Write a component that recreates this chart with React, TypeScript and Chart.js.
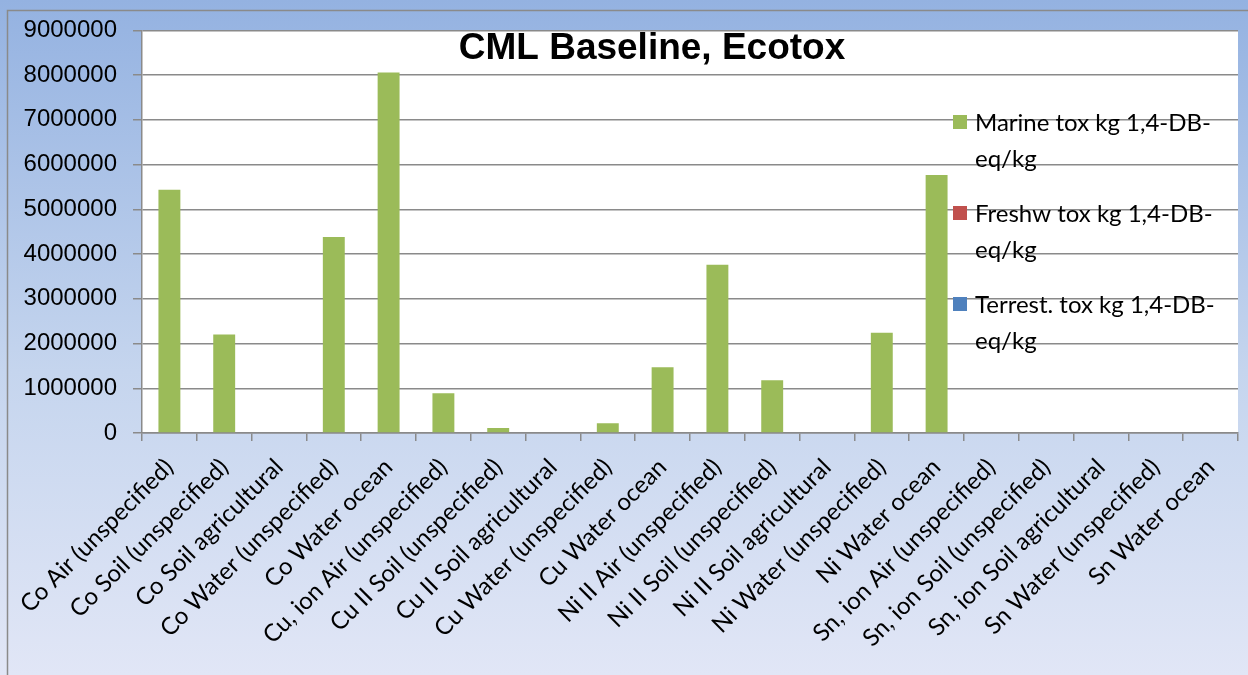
import React, { useEffect, useRef } from "react";
import { Chart, registerables } from "chart.js";

Chart.register(...registerables);

const chartTitle = "CML Baseline, Ecotox";

const categories = [
  "Co Air (unspecified)",
  "Co Soil (unspecified)",
  "Co Soil agricultural",
  "Co Water (unspecified)",
  "Co Water ocean",
  "Cu, ion Air (unspecified)",
  "Cu II Soil (unspecified)",
  "Cu II Soil agricultural",
  "Cu Water (unspecified)",
  "Cu Water ocean",
  "Ni II Air (unspecified)",
  "Ni II Soil (unspecified)",
  "Ni II Soil agricultural",
  "Ni Water (unspecified)",
  "Ni Water ocean",
  "Sn, ion Air (unspecified)",
  "Sn, ion Soil (unspecified)",
  "Sn, ion Soil agricultural",
  "Sn Water (unspecified)",
  "Sn Water ocean",
];

const marineTox = [
  5440000, 2200000, 0, 4380000, 8060000, 890000, 110000, 0, 220000, 1470000,
  3760000, 1180000, 0, 2240000, 5770000, 0, 0, 0, 0, 0,
];
const freshwTox = [0, 0, 0, 0, 0, 0, 0, 0, 0, 0, 0, 0, 0, 0, 0, 0, 0, 0, 0, 0];
const terrestTox = [0, 0, 0, 0, 0, 0, 0, 0, 0, 0, 0, 0, 0, 0, 0, 0, 0, 0, 0, 0];

const seriesLabels = [
  "Marine tox kg 1,4-DB-eq/kg",
  "Freshw tox kg 1,4-DB-eq/kg",
  "Terrest. tox kg 1,4-DB-eq/kg",
];
const seriesColors = ["#9bbb59", "#c0504d", "#4f81bd"];

const yMin = 0;
const yMax = 9000000;
const yStep = 1000000;

const W = 1248;
const H = 675;

function wrapText(ctx: CanvasRenderingContext2D, text: string, maxW: number): string[] {
  const tokens: string[] = [];
  let cur = "";
  for (const ch of text) {
    cur += ch;
    if (ch === " " || ch === "-") {
      tokens.push(cur);
      cur = "";
    }
  }
  if (cur) tokens.push(cur);
  const lines: string[] = [];
  let line = "";
  for (const t of tokens) {
    const test = line + t;
    if (line && ctx.measureText(test.trimEnd()).width > maxW) {
      lines.push(line.trimEnd());
      line = t;
    } else {
      line = test;
    }
  }
  if (line) lines.push(line.trimEnd());
  return lines;
}

const decorPlugin = {
  id: "decor",
  beforeDraw(chart: any) {
    const ctx = chart.ctx as CanvasRenderingContext2D;
    const { chartArea } = chart;
    ctx.save();
    const g = ctx.createLinearGradient(0, 0, 0, H);
    g.addColorStop(0, "#94b2e1");
    g.addColorStop(0.55, "#c5d5ee");
    g.addColorStop(1, "#e1e6f6");
    ctx.fillStyle = g;
    ctx.fillRect(0, 0, W, H);
    ctx.strokeStyle = "#8a8a8a";
    ctx.lineWidth = 1.5;
    ctx.beginPath();
    ctx.moveTo(7.5, H);
    ctx.lineTo(7.5, 10.5);
    ctx.lineTo(W, 10.5);
    ctx.stroke();
    ctx.fillStyle = "#ffffff";
    ctx.fillRect(chartArea.left, chartArea.top, chartArea.right - chartArea.left, chartArea.bottom - chartArea.top);
    ctx.restore();
  },
  afterDraw(chart: any) {
    const ctx = chart.ctx as CanvasRenderingContext2D;
    ctx.save();
    ctx.fillStyle = "#000000";
    ctx.font = "bold 37px 'Liberation Sans', Arial, sans-serif";
    ctx.textAlign = "center";
    ctx.textBaseline = "middle";
    ctx.fillText(chartTitle, 652, 49);
    ctx.font = "24px Lato, 'Open Sans', sans-serif";
    ctx.textAlign = "left";
    const boxX = 953;
    const textX = 975;
    let y = 122;
    chart.data.datasets.forEach((ds: any) => {
      ctx.fillStyle = ds.backgroundColor;
      ctx.fillRect(boxX, y - 7, 14, 14);
      ctx.fillStyle = "#000000";
      const lines = wrapText(ctx, ds.label, 250);
      lines.forEach((ln, i) => {
        ctx.fillText(ln, textX, y + 1 + i * 36);
      });
      y += 91;
    });
    ctx.restore();
  },
};

export default function App() {
  const ref = useRef<HTMLCanvasElement | null>(null);
  useEffect(() => {
    if (!ref.current) return;
    const datasets = [marineTox, freshwTox, terrestTox].map((data, i) => ({
      label: seriesLabels[i],
      data,
      backgroundColor: seriesColors[i],
      borderWidth: 0,
      grouped: false,
      categoryPercentage: 1,
      barPercentage: 0.4,
    }));
    const chart = new Chart(ref.current, {
      type: "bar",
      data: { labels: categories, datasets },
      plugins: [decorPlugin],
      options: {
        responsive: false,
        animation: false,
        devicePixelRatio: 1,
        layout: { padding: { top: 26, left: 0, right: 10, bottom: 0 } },
        plugins: {
          legend: { display: false },
          title: { display: false },
          tooltip: { enabled: false },
        },
        scales: {
          x: {
            offset: true,
            grid: {
              offset: true,
              drawOnChartArea: false,
              drawTicks: true,
              tickLength: 8,
              color: "#8a8a8a",
              lineWidth: 1.5,
            },
            border: { display: true, color: "#8a8a8a", width: 1.5 },
            ticks: {
              autoSkip: false,
              maxRotation: 45,
              minRotation: 45,
              padding: 12,
              color: "#000000",
              font: { family: "Lato, 'Open Sans', sans-serif", size: 24 },
            },
            afterFit(scale: any) {
              scale.height = H - 433;
              scale.paddingLeft = 0;
              scale.paddingRight = 0;
            },
          },
          y: {
            min: yMin,
            max: yMax,
            grid: {
              color: "#8a8a8a",
              lineWidth: 1.5,
              tickLength: 9,
            },
            border: { display: true, color: "#8a8a8a", width: 1.5 },
            ticks: {
              stepSize: yStep,
              padding: 16,
              color: "#000000",
              font: { family: "'Liberation Sans', Arial, sans-serif", size: 24 },
              callback: (v: any) => String(v),
            },
            afterFit(scale: any) {
              scale.width = 142;
            },
          },
        },
      },
    });
    return () => chart.destroy();
  }, []);
  return (
    <div style={{ position: "absolute", left: 0, top: 0, width: W, height: H }}>
      <canvas ref={ref} width={W} height={H} style={{ width: W, height: H, display: "block" }} />
    </div>
  );
}
